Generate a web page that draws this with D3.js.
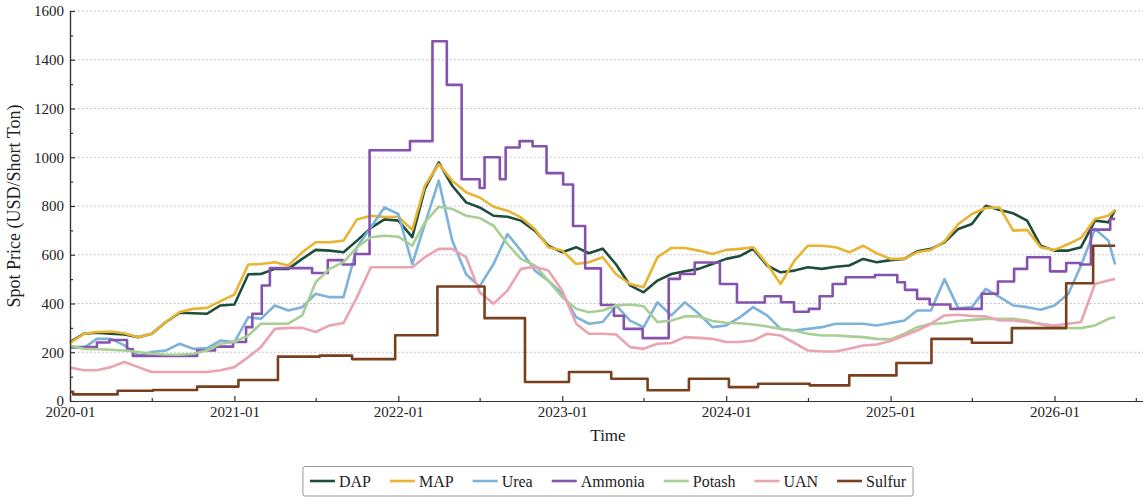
<!DOCTYPE html>
<meta charset="utf-8">
<script src="https://d3js.org/d3.v7.min.js"></script>
<style>
  body { margin: 0; background: #fff; }
  text { font-family: "Liberation Serif", "DejaVu Serif", serif; fill: #222; }
</style>
<div id="my_dataviz"></div>
<script>

// monthly samples, 2020-01 .. 2026-05 plus last week (mid May 2026)
var dap = [242, 276, 280, 276, 273, 262, 276, 323, 362, 360, 358, 392,
  396, 520, 521, 542, 542, 583, 620, 617, 610, 658, 710, 745,
  740, 672, 870, 979, 883, 815, 794, 760, 756, 740, 699, 637,
  610, 631, 606, 625, 560, 474, 446, 494, 521, 532, 542, 562,
  583, 595, 624, 556, 528, 535, 549, 542, 551, 556, 583, 569,
  578, 583, 614, 624, 651, 706, 726, 801, 784, 770, 740, 637,
  617, 617, 631, 740, 733, 784];
var map = [238, 276, 283, 285, 278, 262, 276, 323, 365, 378, 382, 410,
  437, 560, 562, 569, 556, 610, 651, 651, 658, 745, 760, 755,
  756, 702, 883, 972, 904, 856, 835, 797, 781, 753, 706, 631,
  617, 562, 569, 590, 520, 480, 467, 590, 628, 628, 617, 603,
  620, 624, 631, 562, 480, 576, 637, 637, 631, 610, 637, 606,
  583, 583, 610, 620, 655, 726, 767, 792, 794, 699, 702, 631,
  620, 644, 669, 747, 760, 784];
var urea = [221, 218, 255, 255, 228, 187, 201, 207, 235, 214, 217, 248,
  242, 344, 337, 392, 371, 385, 440, 426, 426, 631, 713, 794,
  767, 562, 726, 904, 658, 520, 470, 562, 685, 617, 535, 494,
  440, 344, 317, 324, 392, 330, 303, 405, 351, 405, 358, 303,
  310, 344, 385, 351, 296, 289, 296, 303, 317, 317, 317, 310,
  320, 330, 371, 371, 500, 380, 385, 460, 426, 392, 385, 374,
  392, 440, 556, 706, 658, 560];
var potash = [228, 214, 212, 210, 207, 201, 194, 191, 190, 194, 207, 235,
  242, 269, 317, 317, 317, 351, 487, 542, 570, 631, 672, 678,
  674, 637, 733, 797, 788, 760, 751, 719, 644, 583, 556, 494,
  426, 378, 364, 371, 392, 396, 389, 324, 330, 347, 347, 328,
  321, 319, 314, 306, 296, 289, 276, 269, 269, 265, 262, 255,
  253, 276, 303, 317, 319, 328, 333, 337, 337, 337, 330, 314,
  303, 300, 299, 310, 337, 344];
var uan = [137, 126, 126, 139, 160, 139, 119, 119, 119, 119, 119, 126,
  139, 180, 221, 296, 300, 300, 283, 310, 320, 426, 549, 549,
  549, 549, 590, 624, 624, 590, 446, 399, 453, 542, 551, 535,
  453, 317, 276, 276, 273, 221, 214, 235, 238, 262, 259, 255,
  242, 242, 248, 276, 269, 238, 207, 203, 203, 214, 228, 232,
  246, 269, 289, 317, 351, 354, 349, 347, 330, 330, 324, 317,
  310, 317, 324, 480, 494, 501];

// step series: price changes
var ammoniaDates = ["2020-01-01", "2020-03-01", "2020-03-29", "2020-05-07", "2020-05-20",
  "2020-10-10", "2020-11-19", "2020-12-29", "2021-01-27", "2021-02-10", "2021-03-03",
  "2021-03-21", "2021-06-23", "2021-07-28", "2021-08-30", "2021-09-26", "2021-10-29",
  "2022-01-27", "2022-03-18", "2022-04-19", "2022-05-22", "2022-07-01", "2022-07-12",
  "2022-08-15", "2022-08-28", "2022-09-28", "2022-10-27", "2022-11-27", "2023-01-03",
  "2023-01-25", "2023-02-21", "2023-03-28", "2023-04-26", "2023-05-18", "2023-06-29",
  "2023-08-26", "2023-09-20", "2023-10-23", "2023-12-18", "2024-01-25", "2024-03-27",
  "2024-05-02", "2024-05-31", "2024-07-03", "2024-07-27", "2024-08-25", "2024-09-23",
  "2024-11-27", "2025-01-16", "2025-02-02", "2025-03-01", "2025-03-29", "2025-05-14",
  "2025-07-23", "2025-08-28", "2025-10-03", "2025-11-01", "2025-12-22", "2026-01-27",
  "2026-02-27", "2026-03-23", "2026-05-05", "2026-05-16"];
var ammoniaValues = [221, 240, 250, 212, 185,
  207, 223, 242, 303, 358, 474,
  545, 525, 578, 560, 603, 1029,
  1066, 1476, 1297, 910, 874, 1000,
  910, 1040, 1066, 1045, 935, 888,
  718, 544, 394, 350, 296, 258,
  501, 521, 568, 480, 404, 430,
  405, 366, 378, 430, 480, 508,
  517, 487, 456, 419, 396, 378,
  440, 490, 542, 590, 532, 566,
  560, 703, 747, 747];
var sulfurDates = ["2020-01-01", "2020-01-08", "2020-04-16", "2020-07-04", "2020-10-10",
  "2021-01-10", "2021-04-08", "2021-07-10", "2021-09-20", "2021-12-25", "2022-03-29",
  "2022-07-12", "2022-10-10", "2023-01-16", "2023-04-20", "2023-07-10", "2023-10-10",
  "2024-01-07", "2024-03-12", "2024-07-05", "2024-10-01", "2025-01-14", "2025-04-02",
  "2025-07-01", "2025-09-28", "2026-01-27", "2026-03-28", "2026-05-16"];
var sulfurValues = [38, 27, 42, 45, 59,
  86, 182, 186, 172, 270, 470,
  340, 78, 119, 91, 44, 91,
  57, 71, 64, 105, 156, 255,
  239, 299, 483, 637, 637];

var seriesNames = ["DAP", "MAP", "Urea", "Ammonia", "Potash", "UAN", "Sulfur"];
var seriesColors = ["#1f4d3b", "#e8b432", "#7db2da", "#8552ae", "#a8cf93", "#eba3b1", "#7a3f1c"];
var yTicks = [0, 200, 400, 600, 800, 1000, 1200, 1400, 1600];
var yMinor = [100, 300, 500, 700, 900, 1100, 1300, 1500];
var xTickLabels = ["2020-01", "2021-01", "2022-01", "2023-01", "2024-01", "2025-01", "2026-01"];
var xMinorLabels = ["2020-07", "2021-07", "2022-07", "2023-07", "2024-07", "2025-07", "2026-07"];

var serif = "'Liberation Serif', 'DejaVu Serif', serif";
var W = 1143, H = 497;
var margin = {top: 11, right: 0, bottom: 96, left: 70};
var width = W - margin.left - margin.right,
    height = H - margin.top - margin.bottom;

var parseDay = d3.timeParse("%Y-%m-%d");
var parseMonth = d3.timeParse("%Y-%m");

var months = d3.timeMonth.range(new Date(2020, 0, 1), new Date(2026, 5, 1));
months.push(new Date(2026, 4, 16));

var root = d3.select("#my_dataviz")
  .append("svg")
    .attr("width", W)
    .attr("height", H);
var svg = root.append("g")
    .attr("transform", "translate(" + margin.left + "," + margin.top + ")");

var x = d3.scaleTime()
  .domain([new Date(2020, 0, 1), new Date(2026, 6, 17)])
  .range([0, width]);
var y = d3.scaleLinear()
  .domain([0, 1600])
  .range([height, 0]);

// grid
svg.append("g")
  .selectAll("line")
  .data(yTicks.filter(function(d) { return d > 0; }))
  .enter()
  .append("line")
    .attr("x1", 0)
    .attr("x2", width)
    .attr("y1", function(d) { return y(d); })
    .attr("y2", function(d) { return y(d); })
    .attr("stroke", "#b4b4b4")
    .attr("stroke-width", 1)
    .attr("stroke-dasharray", "1.5,2.5");

// lines
var monthly = [dap, map, urea, null, potash, uan, null];
var line = d3.line()
  .x(function(d) { return x(d[0]); })
  .y(function(d) { return y(d[1]); });
var stepLine = d3.line()
  .x(function(d) { return x(d[0]); })
  .y(function(d) { return y(d[1]); })
  .curve(d3.curveStepAfter);

seriesNames.forEach(function(name, i) {
  var pts, gen;
  if (name === "Ammonia") {
    pts = ammoniaDates.map(function(d, j) { return [parseDay(d), ammoniaValues[j]]; });
    gen = stepLine;
  } else if (name === "Sulfur") {
    pts = sulfurDates.map(function(d, j) { return [parseDay(d), sulfurValues[j]]; });
    gen = stepLine;
  } else {
    pts = months.map(function(d, j) { return [d, monthly[i][j]]; });
    gen = line;
  }
  svg.append("path")
    .datum(pts)
    .attr("fill", "none")
    .attr("stroke", seriesColors[i])
    .attr("stroke-width", 2.6)
    .attr("stroke-linejoin", "round")
    .attr("d", gen);
});

// axes
var axisColor = "#333";
var yAxis = svg.append("g")
  .call(d3.axisLeft(y).tickValues(yTicks).tickFormat(d3.format("d"))
    .tickSizeInner(-5).tickSizeOuter(0).tickPadding(6));
var yAxisMinor = svg.append("g")
  .call(d3.axisLeft(y).tickValues(yMinor).tickSizeInner(-3).tickSizeOuter(0).tickFormat(""));
var xAxis = svg.append("g")
  .attr("transform", "translate(0," + height + ")")
  .call(d3.axisBottom(x)
    .tickValues(xTickLabels.map(parseMonth))
    .tickFormat(d3.timeFormat("%Y-%m"))
    .tickSizeInner(-5).tickSizeOuter(0).tickPadding(5));
var xAxisMinor = svg.append("g")
  .attr("transform", "translate(0," + height + ")")
  .call(d3.axisBottom(x)
    .tickValues(xMinorLabels.map(parseMonth))
    .tickFormat("")
    .tickSizeInner(-3).tickSizeOuter(0));

[yAxis, yAxisMinor, xAxis, xAxisMinor].forEach(function(a) {
  a.attr("font-family", serif);
  a.selectAll("path, line").attr("stroke", axisColor).attr("stroke-width", 1.2);
  a.selectAll("text")
    .attr("font-family", serif)
    .style("font-family", serif)
    .style("font-size", "15px")
    .attr("fill", "#222");
});

// axis titles
svg.append("text")
  .attr("text-anchor", "middle")
  .attr("transform", "translate(" + (-50) + "," + (height / 2) + ") rotate(-90)")
  .style("font-family", serif)
  .style("font-size", "18px")
  .text("Spot Price (USD/Short Ton)");
svg.append("text")
  .attr("text-anchor", "middle")
  .attr("x", 538)
  .attr("y", 430)
  .style("font-family", serif)
  .style("font-size", "17px")
  .text("Time");

// legend
var legend = root.append("g");
var lx = 0;
seriesNames.forEach(function(name, i) {
  var g = legend.append("g").attr("transform", "translate(" + lx + ",0)");
  g.append("line")
    .attr("x1", 0).attr("x2", 25)
    .attr("y1", 0).attr("y2", 0)
    .attr("stroke", seriesColors[i])
    .attr("stroke-width", 2.6);
  var t = g.append("text")
    .attr("x", 29)
    .attr("y", 5.5)
    .style("font-family", serif)
    .style("font-size", "16px")
    .text(name);
  lx += 29 + t.node().getComputedTextLength() + 19;
});
var legendW = lx - 19 + 14;
var legendX = 608 - legendW / 2;
legend.attr("transform", "translate(" + (legendX + 7) + ",481)");
root.insert("rect", "g")
  .attr("x", legendX)
  .attr("y", 466.5)
  .attr("width", legendW)
  .attr("height", 29.5)
  .attr("rx", 2)
  .attr("fill", "#fff")
  .attr("stroke", "#999")
  .attr("stroke-width", 1);

</script>
